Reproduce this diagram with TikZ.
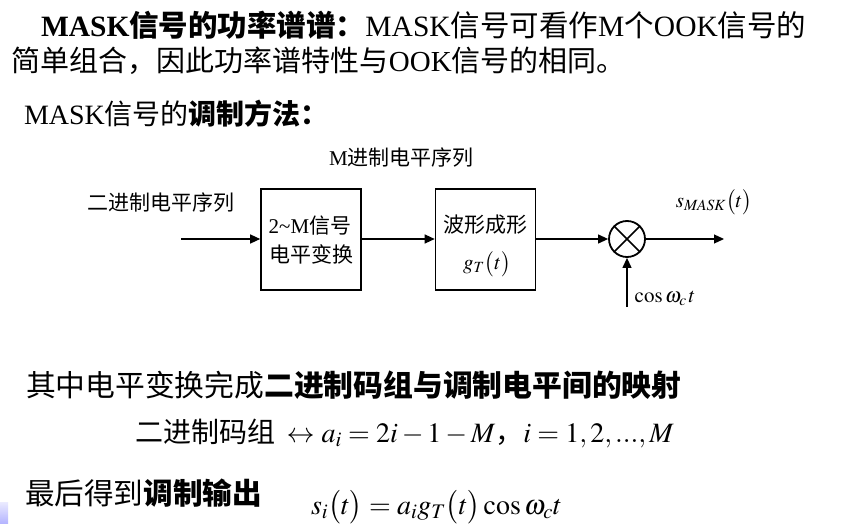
\documentclass[tikz,border=0pt]{standalone}
\usepackage{mathptmx}
\usepackage{fontspec}
\setmainfont{Liberation Serif}
\newfontfamily\cjk{Noto Sans CJK SC}
\usetikzlibrary{arrows.meta}
\newcommand\zh[1]{{\cjk #1}}
\newcommand\fs[1]{\fontsize{#1}{#1}\selectfont}
\begin{document}
\begin{tikzpicture}[x=1pt,y=-1pt,
  txt/.style={inner sep=0pt,outer sep=0pt,anchor=west},
  lbl/.style={inner sep=0pt,outer sep=0pt,font=\fs{21}},
  blk/.style={draw,line width=1.6pt,minimum width=100pt,minimum height=101pt,inner sep=0pt},
  arr/.style={line width=1.2pt,-{Triangle[length=10pt,width=9pt]}},
  mulc/.style={circle,draw,line width=1.8pt,minimum size=36pt,inner sep=0pt}]
\useasboundingbox (0,0) rectangle (849,524);
% text lines
\node[txt,font=\fs{29.5}] (l1) at (41,25)
  {\textbf{MASK}\zh{\bfseries 信号的功率谱谱：}MASK\zh{信号可看作}M\zh{个}OOK\zh{信号的}};
\node[txt,font=\fs{29}] (l2) at (12,61)
  {\zh{简单组合，因此功率谱特性与}OOK\zh{信号的相同。}};
\node[txt,font=\fs{28}] (l3) at (24,114)
  {MASK\zh{信号的\bfseries 调制方法：}};
% diagram
\node[blk] (b1) at (311,239.5) {};
\node[blk] (b2) at (485.5,239.5) {};
\node[mulc] (mul) at (627,239) {};
\draw[line width=1.6pt] (mul.45) -- (mul.225) (mul.135) -- (mul.315);
\coordinate (in) at (181,239);
\coordinate (out) at (724,239);
\coordinate (cosin) at (627,307);
\draw[arr] (in) -- (b1.west |- in);
\draw[arr] (b1.east |- in) -- (b2.west |- in);
\draw[arr] (b2.east |- in) -- (mul.west);
\draw[arr] (mul.east) -- (out);
\draw[arr] (cosin) -- (mul.south);
\node[lbl] (mseq) at (401.5,158) {M\zh{进制电平序列}};
\node[lbl] (bseq) at (160.5,203) {\zh{二进制电平序列}};
\node[lbl] (t1a) at (310,226) {2\char`~M\zh{信号}};
\node[lbl] (t1b) at (311,254) {\zh{电平变换}};
\node[lbl] (t2a) at (485.5,225) {\zh{波形成形}};
\node[lbl] (t2b) at (487,264) {$g_T\bigl(t\bigr)$};
\node[lbl] (sout) at (714,202) {$s_{\mathit{MASK}}\bigl(t\bigr)$};
\node[lbl] (cosl) at (665,298) {$\cos\omega_{c\,}t$};
% bottom text
\node[txt,font=\fs{29.8}] (l4) at (26,385)
  {\zh{其中电平变换完成\bfseries 二进制码组与调制电平间的映射}};
\node[txt,font=\fs{28}] (l5) at (135,433)
  {\zh{二进制码组}\ \,$\leftrightarrow$\ $a_i=2i-1-M$\zh{，}$i=1,2,...,M$};
\node[txt,font=\fs{29.6}] (l6) at (25,493)
  {\zh{最后得到\bfseries 调制输出}};
\node[inner sep=0pt,font=\fs{28}] (l7) at (436.5,507)
  {$s_i\bigl(t\bigr)=a_i g_T\bigl(t\bigr)\cos\omega_c t$};
% decoration patch
\fill[top color=blue!8,bottom color=blue!30] (0,502) rectangle (8,524);
\end{tikzpicture}
\end{document}
